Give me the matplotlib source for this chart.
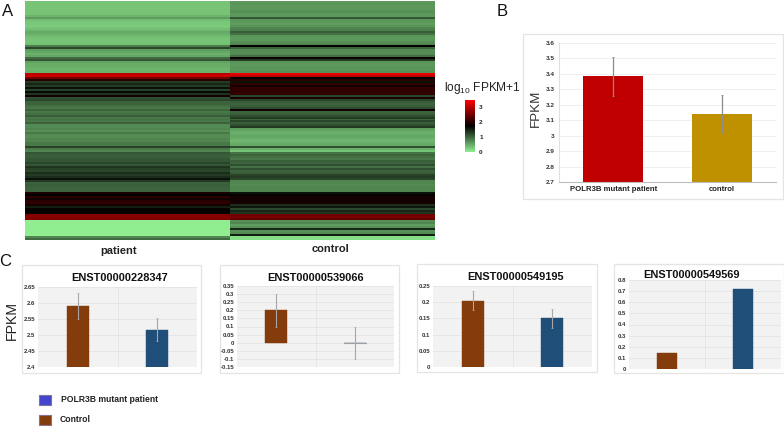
import numpy as np
import matplotlib
matplotlib.use("Agg")
import matplotlib.pyplot as plt
from matplotlib.colors import LinearSegmentedColormap
from matplotlib.patches import Rectangle

plt.rcParams['font.family'] = ['Liberation Sans', 'DejaVu Sans']
plt.rcParams['mathtext.default'] = 'regular'

# ---- data ----
samples = ["patient", "control"]
patient_row = [
    .30,.32,.30,.30,.30,.30,.32,.42,.60,.35,
    .27,.27,.25,.30,.38,.50,.45,.38,.33,.30,
    .30,.33,.80,1.2,.60,.52,.45,.52,.95,1.1,
    .55,.48,.48,.42,.42,.45,3.0,3.1,2.5,2.0,
    1.3,1.45,1.3,1.6,1.25,1.65,1.35,1.85,1.15,1.2,
    1.0,1.0,.92,.85,1.0,.85,.92,1.05,.85,.92,
    .85,1.0,.72,.72,.76,.68,.85,.72,.72,.76,
    .76,.85,.85,1.25,.85,.76,1.1,1.05,1.05,1.1,
    1.1,1.2,1.1,1.35,1.25,1.2,1.4,1.3,1.4,1.6,
    1.3,1.0,1.05,1.0,1.0,1.0,1.9,1.75,2.0,1.85,
    2.0,2.05,1.85,1.5,1.8,1.7,1.8,2.6,2.65,2.6,
    0,0,0,0,0,0,0,0,.75,.95,
]
control_row = [
    .62,.66,.62,.62,.66,.70,.62,.62,1.1,.66,
    .62,.58,.66,.78,.82,1.05,.90,.66,.62,.62,
    .70,.78,1.75,1.0,.74,.70,.74,.92,1.8,1.3,
    .66,.62,.62,.66,.66,.70,3.3,3.0,1.75,2.0,
    1.6,2.05,1.85,2.05,2.05,2.05,2.05,1.2,1.9,1.2,
    1.05,1.0,1.05,1.15,1.85,1.0,1.05,1.15,1.3,1.0,
    1.2,1.05,1.15,1.3,.58,.50,.45,.50,.52,.45,
    .40,.48,.52,1.15,.45,.32,.90,1.0,.92,.85,
    1.05,1.0,1.15,.92,1.15,1.0,1.05,1.25,1.3,1.2,
    .76,.76,.72,.76,.76,.76,1.6,1.8,1.85,1.85,
    1.85,1.9,1.4,1.55,1.2,1.45,1.35,2.5,2.55,2.4,
    .68,.76,.58,.68,1.45,.68,.72,1.5,.12,.12,
]
legend_ticks = [0, 1, 2, 3]
bar_b_labels = ["POLR3B mutant patient", "control"]
bar_b_values = [3.385, 3.14]
bar_b_errors = [0.125, 0.125]
bar_b_ticks = [2.7, 2.8, 2.9, 3, 3.1, 3.2, 3.3, 3.4, 3.5, 3.6]

c_titles = ["ENST00000228347", "ENST00000539066", "ENST00000549195", "ENST00000549569"]
c_control = [2.59, 0.2, 0.205, 0.14]
c_patient = [2.517, 0.0, 0.15, 0.715]
c_control_err = [0.04, 0.1, 0.03, 0.0]
c_patient_err = [0.036, 0.1, 0.03, 0.0]
c_ticks = [
    [2.4, 2.45, 2.5, 2.55, 2.6, 2.65],
    [-0.15, -0.1, -0.05, 0, 0.05, 0.1, 0.15, 0.2, 0.25, 0.3, 0.35],
    [0, 0.05, 0.1, 0.15, 0.2, 0.25],
    [0, 0.1, 0.2, 0.3, 0.4, 0.5, 0.6, 0.7, 0.8],
]
c_ticklabels = [
    ["2.4", "2.45", "2.5", "2.55", "2.6", "2.65"],
    ["-0.15", "-0.1", "-0.05", "0", "0.05", "0.1", "0.15", "0.2", "0.25", "0.3", "0.35"],
    ["0", "0.05", "0.1", "0.15", "0.2", "0.25"],
    ["0", "0.1", "0.2", "0.3", "0.4", "0.5", "0.6", "0.7", "0.8"],
]
legend_labels = ["POLR3B mutant patient", "Control"]

# ---- layout helpers (pixels, origin top-left) ----
W, H = 784, 426
fig = plt.figure(figsize=(W / 100, H / 100), dpi=100, facecolor="white")

def axpx(x0, y0, x1, y1, **kw):
    return fig.add_axes([x0 / W, 1 - y1 / H, (x1 - x0) / W, (y1 - y0) / H], **kw)

def box(x0, y0, x1, y1, fc="white", ec="#E4E4E4", lw=0.9):
    fig.add_artist(Rectangle((x0 / W, 1 - y1 / H), (x1 - x0) / W, (y1 - y0) / H,
                             transform=fig.transFigure, fc=fc, ec=ec, lw=lw, zorder=-1))

def txt(x, y, s, **kw):
    kw.setdefault("ha", "center")
    kw.setdefault("va", "center")
    fig.text(x / W, 1 - y / H, s, **kw)

# ---- panel A ----
cmap = LinearSegmentedColormap.from_list("gbr", ["#90EE90", "#000000", "#FF0000"])
ax = axpx(25, 1, 435, 240)
im = ax.imshow(np.column_stack([patient_row, control_row]), cmap=cmap, vmin=0, vmax=3.45,
               aspect="auto", interpolation="nearest")
ax.axis("off")
txt(119, 250.5, samples[0], fontsize=8, fontweight="bold", color="#222222")
txt(330, 249, samples[1], fontsize=8, fontweight="bold", color="#222222")

cax = axpx(465, 100, 475, 152)
cb = fig.colorbar(im, cax=cax)
cb.outline.set_visible(False)
cb.set_ticks(legend_ticks)
cax.tick_params(labelsize=4.6, length=0, pad=3, labelcolor="#222222")
for lab in cax.get_yticklabels():
    lab.set_fontweight("bold")
txt(482, 87.5, r"log$_{10}$ FPKM+1", fontsize=8.6, color="#222222")

# ---- panel B ----
box(523, 34, 783, 199)
ax = axpx(559, 43, 776, 182)
ax.set_xlim(-0.5, 1.5)
ax.set_ylim(2.7, 3.6)
ax.bar([0], bar_b_values[0], width=0.55, color="#C00000", zorder=2)
ax.bar([1], bar_b_values[1], width=0.55, color="#BF9000", zorder=2)
ax.errorbar([0, 1], bar_b_values, yerr=bar_b_errors, fmt="none", ecolor="#8C8C8C",
            elinewidth=0.9, capsize=1, capthick=0.6, zorder=3)
ax.set_yticks(bar_b_ticks)
ax.set_yticklabels([str(t) for t in bar_b_ticks], fontsize=4.6, fontweight="bold", color="#333333")
ax.set_xticks([0, 1])
ax.set_xticklabels(bar_b_labels, fontsize=5.6, fontweight="bold", color="#222222")
ax.tick_params(length=0, pad=3)
ax.grid(axis="y", color="#EDEDED", lw=0.6, zorder=0)
ax.set_axisbelow(True)
for s in ["top", "right"]:
    ax.spines[s].set_visible(False)
ax.spines["left"].set_color("#E0E0E0")
ax.spines["bottom"].set_color("#BDBDBD")
txt(536, 108, "FPKM", fontsize=9.6, rotation=90, color="#333333")

# ---- panel C ----
c_boxes = [(22, 265, 201, 373), (220, 265, 399, 373), (417, 264, 597, 372), (614, 264, 784, 373)]
c_axes = [(38, 287, 197, 367), (237, 286, 394, 367), (433, 286, 592, 367), (629, 280, 781, 369)]
c_title_xy = [(120, 278), (316, 278), (516, 277), (691, 275)]
for i in range(4):
    box(*c_boxes[i])
    ax = axpx(*c_axes[i], facecolor="#F2F2F2")
    ax.set_xlim(-0.5, 1.5)
    ticks = c_ticks[i]
    ax.set_ylim(ticks[0], ticks[-1])
    ax.bar([0], c_control[i], width=0.275, color="#843C0C", zorder=2, edgecolor="#843C0C", lw=0.3)
    ax.bar([1], c_patient[i], width=0.275, color="#1F4E79", zorder=2, edgecolor="#1F4E79", lw=0.3)
    if i == 1:
        ax.plot([0.86, 1.14], [c_patient[i]] * 2, color="#A0A0A0", lw=0.8, zorder=2)
    if c_control_err[i] > 0:
        ax.errorbar([0, 1], [c_control[i], c_patient[i]],
                    yerr=[c_control_err[i], c_patient_err[i]], fmt="none",
                    ecolor="#A8A8A8", elinewidth=0.8, capsize=0.8, capthick=0.5, zorder=3)
    ax.set_yticks(ticks)
    ax.set_yticklabels(c_ticklabels[i], fontsize=4.3, fontweight="bold", color="#333333")
    ax.set_xticks([0.5])
    ax.set_xticklabels([""])
    ax.tick_params(length=0, pad=2)
    ax.grid(True, color="#E2E2E2", lw=0.5, zorder=0)
    ax.set_axisbelow(True)
    for s in ax.spines.values():
        s.set_visible(False)
    txt(*c_title_xy[i], c_titles[i], fontsize=7.9, fontweight="bold", color="#111111")

txt(12, 320, "FPKM", fontsize=10.2, rotation=90, color="#222222")

# legend
box(39, 395, 50.5, 405, fc="#4444CC", ec="#777799", lw=0.8)
box(39, 415, 50.5, 425, fc="#843C0C", ec="#8A7090", lw=0.8)
txt(61, 400, legend_labels[0], ha="left", fontsize=6.2, fontweight="bold", color="#222222")
txt(60, 420, legend_labels[1], ha="left", fontsize=6.2, fontweight="bold", color="#222222")

# panel letters
txt(8, 12, "A", fontsize=12, color="#111111")
txt(502, 11, "B", fontsize=12, color="#111111")
txt(5, 261, "C", fontsize=12, color="#111111")

fig.savefig("out.png", dpi=100)
